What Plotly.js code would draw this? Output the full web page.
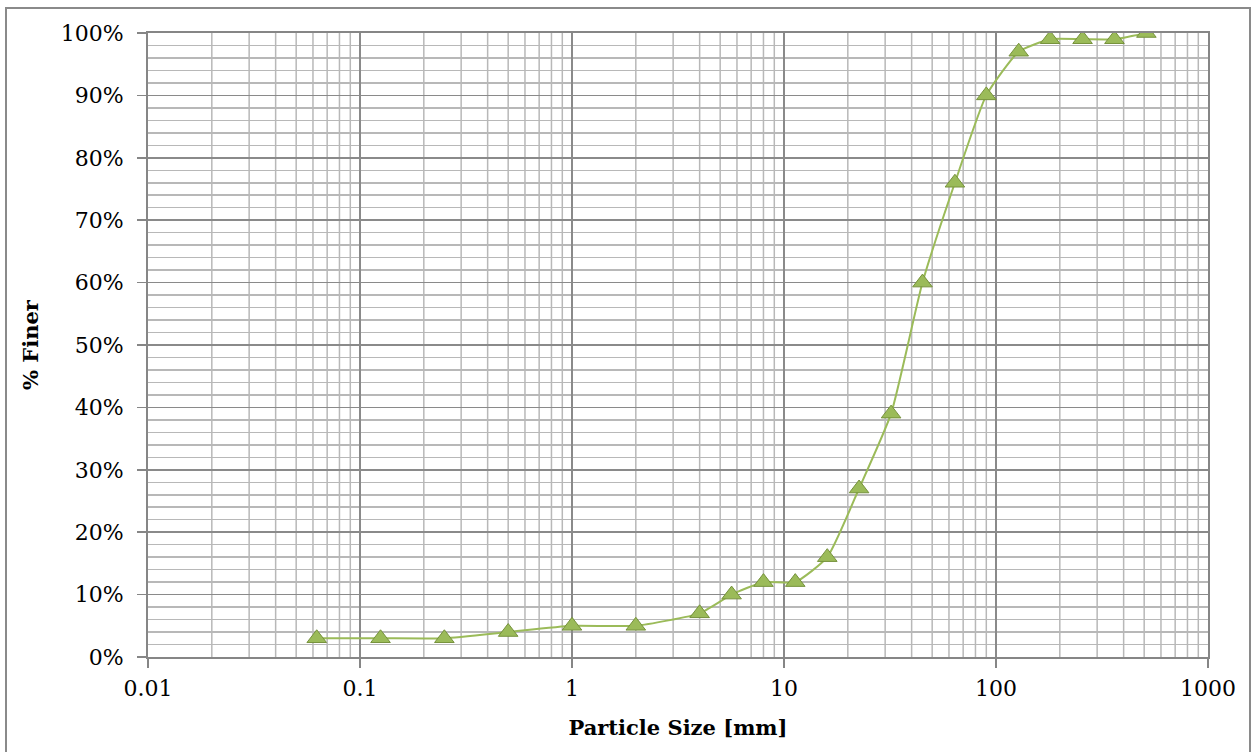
<!DOCTYPE html>
<html>
<head>
<meta charset="utf-8">
<script src="https://cdn.plot.ly/plotly-3.0.1.min.js"></script>
<style>
  html, body { margin: 0; padding: 0; background: #fff; overflow: hidden; }
  #frame { position: absolute; left: 5px; top: 7px; width: 1246px; height: 800px; border: 2px solid #8a8a8a; box-sizing: border-box; }
  #chart { position: absolute; left: 0; top: 0; width: 1257px; height: 752px; }
</style>
</head>
<body>
<div id="frame"></div>
<div id="chart"></div>
<script>
// Particle size (mm) and percent finer
const particleSize = [0.0625, 0.125, 0.25, 0.5, 1, 2, 4, 5.66, 8, 11.3, 16, 22.6, 32, 45, 64, 90, 128, 180, 256, 362, 512];
const percentFiner = [0.03, 0.03, 0.03, 0.04, 0.05, 0.05, 0.07, 0.10, 0.12, 0.12, 0.16, 0.27, 0.39, 0.60, 0.76, 0.90, 0.97, 0.99, 0.99, 0.99, 1.00];
const xMajorTicks = [0.01, 0.1, 1, 10, 100, 1000];
const xTickLabels = ['0.01', '0.1', '1', '10', '100', '1000'];
const xTitle = 'Particle Size [mm]';
const yTitle = '% Finer';

// minor gridline positions (2..9 within each decade)
const xMinorTicks = [];
for (let d = 0; d < xMajorTicks.length - 1; d++) {
  for (let m = 2; m <= 9; m++) xMinorTicks.push(xMajorTicks[d] * m);
}
const minorShapes = xMinorTicks.map(v => ({
  type: 'line', xref: 'x', yref: 'paper', x0: v, x1: v, y0: 0, y1: 1,
  line: { color: '#b8b8b8', width: 1.5 }, layer: 'below'
}));

const tickFont = "'DejaVu Serif', 'Liberation Serif', serif";

const trace = {
  x: particleSize,
  y: percentFiner,
  type: 'scatter',
  mode: 'lines+markers',
  line: { color: '#9bbb59', width: 2, shape: 'spline', smoothing: 0.5 },
  marker: { symbol: 'triangle-up', size: 17, color: '#9bbb59', line: { color: '#76923c', width: 1 } },
  hoverinfo: 'x+y'
};

const layout = {
  width: 1257,
  height: 752,
  margin: { l: 148, r: 49, t: 33, b: 95 },
  paper_bgcolor: 'rgba(0,0,0,0)',
  plot_bgcolor: '#ffffff',
  showlegend: false,
  font: { family: tickFont, size: 22, color: '#000' },
  shapes: minorShapes,
  xaxis: {
    type: 'log',
    range: [-2, 3],
    tickmode: 'array',
    tickvals: xMajorTicks,
    ticktext: xTickLabels,
    ticks: 'outside',
    ticklen: 9,
    tickwidth: 1.5,
    tickcolor: '#868686',
    showline: true,
    mirror: true,
    linecolor: '#868686',
    linewidth: 2,
    showgrid: true,
    gridcolor: '#8a8a8a',
    gridwidth: 1.5,
    zeroline: false,
    ticklabelstandoff: 2,
    tickfont: { family: tickFont, size: 22, color: '#000' },
    title: { text: '<b>' + xTitle + '</b>', font: { family: tickFont, size: 21, color: '#000' }, standoff: 20 }
  },
  yaxis: {
    range: [0, 1],
    tickmode: 'linear',
    tick0: 0,
    dtick: 0.1,
    tickformat: '.0%',
    ticks: 'outside',
    ticklen: 9,
    tickwidth: 1.5,
    tickcolor: '#868686',
    showline: true,
    mirror: true,
    linecolor: '#868686',
    linewidth: 2,
    showgrid: true,
    gridcolor: '#8a8a8a',
    gridwidth: 1.5,
    zeroline: false,
    ticklabelstandoff: 9,
    minor: { tick0: 0, dtick: 0.02, showgrid: true, gridcolor: '#b8b8b8', gridwidth: 1.5, ticks: '' },
    tickfont: { family: tickFont, size: 22, color: '#000' },
    title: { text: '<b>' + yTitle + '</b>', font: { family: tickFont, size: 21, color: '#000' }, standoff: 16 }
  }
};

Plotly.newPlot('chart', [trace], layout, { displayModeBar: false, staticPlot: true });
</script>
</body>
</html>
